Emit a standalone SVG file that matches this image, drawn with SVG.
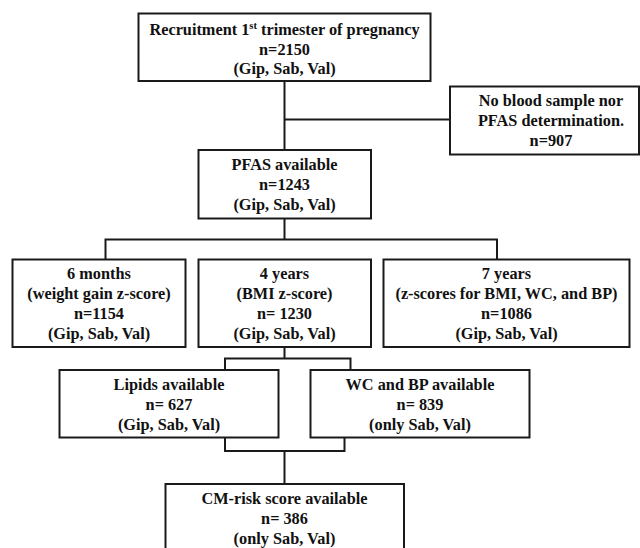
<svg xmlns="http://www.w3.org/2000/svg" width="640" height="548" viewBox="0 0 640 548">
<style>
.box{fill:#fff;stroke:#1a1a1a;stroke-width:2}
.ln{fill:none;stroke:#1a1a1a;stroke-width:2}
.t{font-family:'Liberation Serif','DejaVu Serif',serif;font-weight:700;font-size:16.3px;fill:#111;text-anchor:middle}
</style>
<rect width="640" height="548" fill="#fff"/>
<g id="connectors">
<path class="ln" d="M284.5 81V150M284.5 119.5H450"/>
<path class="ln" d="M284.5 218.5V239.5M105.5 259.5V239.5H497V259.5"/>
<path class="ln" d="M284.5 347V358.5M225 370V358.5H350.5V370"/>
<path class="ln" d="M225 437.5V451H344.5V437.5M284.5 451V484"/>
</g>
<g class="t" font-family="Liberation Serif, DejaVu Serif, serif">
<g id="recruitment">
<rect class="box" x="138.5" y="13.5" width="292" height="67.5"/>
<text x="284.5" y="35">Recruitment 1<tspan font-size="10.5" dy="-6">st</tspan><tspan dy="6"> trimester of pregnancy</tspan></text>
<text x="284.5" y="54.5">n=2150</text>
<text x="284.5" y="74">(Gip, Sab, Val)</text>
</g>
<g id="excluded">
<rect class="box" x="450" y="86.5" width="189" height="68"/>
<text x="551" y="106">No blood sample nor</text>
<text x="551" y="126">PFAS determination.</text>
<text x="551" y="145.5">n=907</text>
</g>
<g id="pfas">
<rect class="box" x="198.5" y="150" width="172.5" height="68.5"/>
<text x="284.5" y="170">PFAS available</text>
<text x="284.5" y="189.5">n=1243</text>
<text x="284.5" y="209.5">(Gip, Sab, Val)</text>
</g>
<g id="six-months">
<rect class="box" x="12.5" y="259.5" width="173" height="87.5"/>
<text x="99" y="278.5">6 months</text>
<text x="99" y="298.5">(weight gain z-score)</text>
<text x="99" y="318.5">n=1154</text>
<text x="99" y="338.5">(Gip, Sab, Val)</text>
</g>
<g id="four-years">
<rect class="box" x="198.5" y="259.5" width="172.5" height="87.5"/>
<text x="284.5" y="278.5">4 years</text>
<text x="284.5" y="298.5">(BMI z-score)</text>
<text x="284.5" y="318.5">n= 1230</text>
<text x="284.5" y="338.5">(Gip, Sab, Val)</text>
</g>
<g id="seven-years">
<rect class="box" x="383.5" y="259.5" width="246" height="87.5"/>
<text x="506.5" y="278.5">7 years</text>
<text x="506.5" y="298.5">(z-scores for BMI, WC, and BP)</text>
<text x="506.5" y="318.5">n=1086</text>
<text x="506.5" y="338.5">(Gip, Sab, Val)</text>
</g>
<g id="lipids">
<rect class="box" x="59.5" y="370" width="219" height="67.5"/>
<text x="169" y="390">Lipids available</text>
<text x="169" y="409.5">n= 627</text>
<text x="169" y="429.5">(Gip, Sab, Val)</text>
</g>
<g id="wc-bp">
<rect class="box" x="310.5" y="370" width="219" height="67.5"/>
<text x="420" y="390">WC and BP available</text>
<text x="420" y="409.5">n= 839</text>
<text x="420" y="429.5">(only Sab, Val)</text>
</g>
<g id="cm-risk">
<rect class="box" x="165.5" y="484" width="238.5" height="80"/>
<text x="284.5" y="504">CM-risk score available</text>
<text x="284.5" y="523.5">n= 386</text>
<text x="284.5" y="543.5">(only Sab, Val)</text>
</g>
</g>
</svg>
